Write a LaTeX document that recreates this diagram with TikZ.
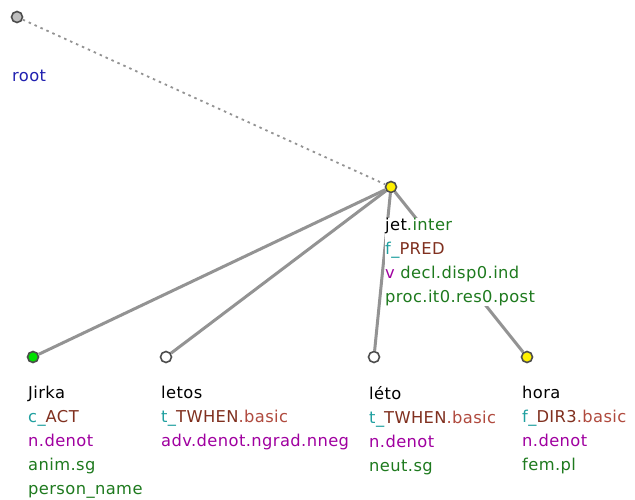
\documentclass[tikz,border=0pt]{standalone}
\usepackage{fontspec}
\setmainfont[LetterSpace=2.5]{DejaVu Sans}
\usetikzlibrary{positioning,backgrounds}
\definecolor{tblue}{HTML}{2020B0}
\definecolor{tteal}{HTML}{20A0A0}
\definecolor{tbrown}{HTML}{80301F}
\definecolor{tred}{HTML}{B04A3E}
\definecolor{tpurple}{HTML}{A000A0}
\definecolor{tgreen}{HTML}{1E7A1E}
\definecolor{tyellow}{HTML}{FFF000}
\definecolor{tlime}{HTML}{00E000}
\newcommand{\fnc}[2]{\textcolor{tteal}{#1}\textcolor{tbrown}{#2}}

\begin{document}
\begin{tikzpicture}[x=1pt, y=-1pt, font=\fontsize{16.3}{24}\selectfont,
  dot/.style={circle, draw=black!70, line width=1.6pt, minimum size=11pt, inner sep=0pt},
  lbl/.style={anchor=north west, align=left, inner sep=0pt, fill=white},
  edge/.style={draw=gray!85, line width=3pt}]
\useasboundingbox (0,0) rectangle (635,500);
% nodes
\node[dot, fill=gray!50] (root) at (17,17) {};
\node[dot, fill=tyellow] (jet) at (391,187) {};
\node[dot, fill=tlime] (jirka) at (33,357) {};
\node[dot, fill=white] (letos) at (166,357) {};
\node[dot, fill=white] (leto) at (374,357) {};
\node[dot, fill=tyellow] (hora) at (527,357) {};
% labels
\node[lbl, text=tblue] (root-l) at (12,70) {root};
\node[lbl] (jet-l) at (385,218) {jet\textcolor{tgreen}{.inter}\\
  \fnc{f\_}{PRED}\\
  \textcolor{tpurple}{v} \textcolor{tgreen}{decl.disp0.ind}\\
  \textcolor{tgreen}{proc.it0.res0.post}};
\node[lbl] (jirka-l) at (28,386) {Jirka\\
  \fnc{c\_}{ACT}\\
  \textcolor{tpurple}{n.denot}\\
  \textcolor{tgreen}{anim.sg}\\
  \textcolor{tgreen}{person\_name}};
\node[lbl] (letos-l) at (161,386) {letos\\
  \fnc{t\_}{TWHEN}\textcolor{tred}{.basic}\\
  \textcolor{tpurple}{adv.denot.ngrad.nneg}};
\node[lbl] (leto-l) at (369,386) {léto\\
  \fnc{t\_}{TWHEN}\textcolor{tred}{.basic}\\
  \textcolor{tpurple}{n.denot}\\
  \textcolor{tgreen}{neut.sg}};
\node[lbl] (hora-l) at (522,386) {hora\\
  \fnc{f\_}{DIR3}\textcolor{tred}{.basic}\\
  \textcolor{tpurple}{n.denot}\\
  \textcolor{tgreen}{fem.pl}};
% edges
\begin{scope}[on background layer]
\draw[gray!85, line width=1.8pt, dash pattern=on 2.5pt off 4pt] (root) -- (jet);
\draw[edge] (jet) -- (jirka);
\draw[edge] (jet) -- (letos);
\draw[edge] (jet) -- (leto);
\draw[edge] (jet) -- (hora);
\end{scope}
\end{tikzpicture}
\end{document}
